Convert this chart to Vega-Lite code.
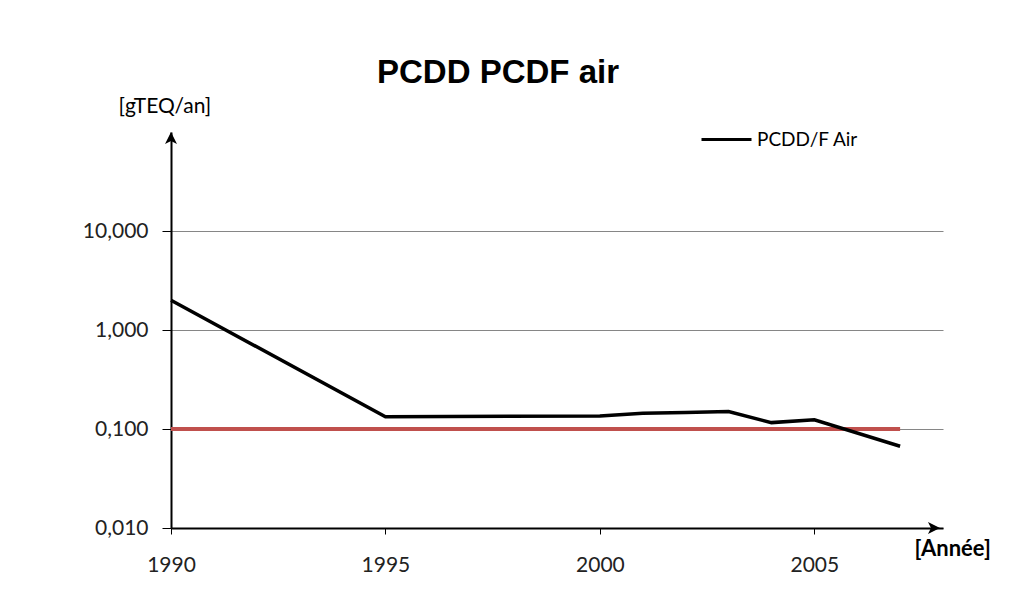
{
  "$schema": "https://vega.github.io/schema/vega-lite/v6.json",
  "autosize": {"type": "none"},
  "width": 772,
  "height": 396,
  "padding": {"left": 171, "top": 132, "right": 67, "bottom": 61},
  "background": "white",
  "title": {
    "text": "PCDD PCDF air",
    "font": "Liberation Sans",
    "fontSize": 33,
    "fontWeight": "bold",
    "color": "black",
    "anchor": "start",
    "frame": "group",
    "dx": 206,
    "offset": 5
  },
  "config": {
    "view": {"stroke": null},
    "font": "Lato"
  },
  "datasets": {
    "series": [
      {"year": 1990, "value": 2.0, "series": "PCDD/F Air"},
      {"year": 1995, "value": 0.133, "series": "PCDD/F Air"},
      {"year": 2000, "value": 0.135, "series": "PCDD/F Air"},
      {"year": 2001, "value": 0.144, "series": "PCDD/F Air"},
      {"year": 2002, "value": 0.147, "series": "PCDD/F Air"},
      {"year": 2003, "value": 0.15, "series": "PCDD/F Air"},
      {"year": 2004, "value": 0.116, "series": "PCDD/F Air"},
      {"year": 2005, "value": 0.124, "series": "PCDD/F Air"},
      {"year": 2007, "value": 0.067, "series": "PCDD/F Air"}
    ],
    "limit": [
      {"year": 1990, "value": 0.1},
      {"year": 2007, "value": 0.1}
    ],
    "arrowsUp": [{"year": 1990, "value": 100}],
    "arrowsRight": [{"year": 2007.93, "value": 0.01}]
  },
  "layer": [
    {
      "data": {"name": "limit"},
      "mark": {"type": "line", "color": "#c0504d", "strokeWidth": 4, "strokeCap": "butt"},
      "encoding": {
        "x": {
          "field": "year", "type": "quantitative",
          "scale": {"domain": [1990, 2008], "nice": false, "zero": false},
          "axis": {
            "values": [1990, 1995, 2000, 2005],
            "format": "d",
            "grid": false,
            "domainColor": "black",
            "domainWidth": 2,
            "tickColor": "black",
            "tickSize": 6,
            "labelFont": "Lato",
            "labelFontSize": 21,
            "labelColor": "#222",
            "labelPadding": 20,
            "labelFlush": false,
            "title": "[Année]",
            "titleFont": "Lato",
            "titleFontSize": 22,
            "titleFontWeight": "bold",
            "titleColor": "black",
            "titleAnchor": "start",
            "titleAlign": "left",
            "titleBaseline": "middle",
            "titleX": 743,
            "titleY": 20
          }
        },
        "y": {
          "field": "value", "type": "quantitative",
          "scale": {"type": "log", "domain": [0.01, 100], "nice": false},
          "axis": {
            "values": [0.01, 0.1, 1, 10],
            "labelExpr": "replace(format(datum.value, '.3f'), '.', ',')",
            "grid": true,
            "gridColor": "#868686",
            "gridWidth": 1,
            "domainColor": "black",
            "domainWidth": 2,
            "tickColor": "black",
            "tickSize": 9,
            "labelFont": "Lato",
            "labelFontSize": 21,
            "labelColor": "#222",
            "labelPadding": 14,
            "labelFlush": false,
            "title": "[gTEQ/an]",
            "titleFont": "Lato",
            "titleFontSize": 21,
            "titleFontWeight": "normal",
            "titleColor": "black",
            "titleAngle": 0,
            "titleAlign": "left",
            "titleBaseline": "middle",
            "titleX": -53,
            "titleY": -26
          }
        }
      }
    },
    {
      "data": {"name": "series"},
      "mark": {"type": "line", "strokeWidth": 3.5, "strokeCap": "butt"},
      "encoding": {
        "x": {"field": "year", "type": "quantitative"},
        "y": {"field": "value", "type": "quantitative"},
        "color": {
          "field": "series", "type": "nominal",
          "scale": {"domain": ["PCDD/F Air"], "range": ["black"]},
          "legend": {
            "title": null,
            "orient": "none",
            "legendX": 529,
            "legendY": -19,
            "symbolType": "stroke",
            "symbolSize": 2500,
            "symbolStrokeWidth": 3,
            "labelFont": "Lato",
            "labelFontSize": 19,
            "labelColor": "black",
            "labelOffset": 4,
            "padding": 0
          }
        }
      }
    },
    {
      "data": {"name": "arrowsUp"},
      "mark": {"type": "point", "shape": "M0,0 L-1,2 L0,1.5 L1,2 Z", "size": 144, "filled": true, "color": "black", "opacity": 1},
      "encoding": {
        "x": {"field": "year", "type": "quantitative"},
        "y": {"field": "value", "type": "quantitative"}
      }
    },
    {
      "data": {"name": "arrowsRight"},
      "mark": {"type": "point", "shape": "M0,0 L-2,-1 L-1.5,0 L-2,1 Z", "size": 144, "filled": true, "color": "black", "opacity": 1},
      "encoding": {
        "x": {"field": "year", "type": "quantitative"},
        "y": {"field": "value", "type": "quantitative"}
      }
    }
  ]
}
